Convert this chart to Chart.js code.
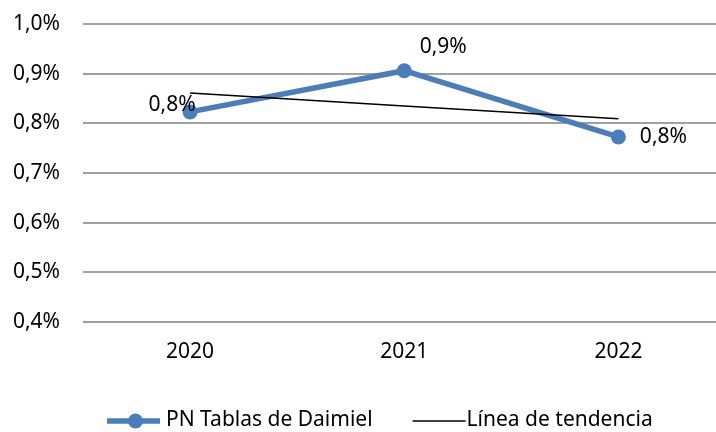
<!DOCTYPE html>
<html>
<head>
<meta charset="utf-8">
<script src="https://cdn.jsdelivr.net/npm/chart.js@4.4.1/dist/chart.umd.min.js"></script>
<style>
  html, body { margin: 0; padding: 0; background: #ffffff; overflow: hidden; }
  #wrap { width: 733px; height: 432px; }
  canvas { display: block; width: 733px; height: 432px; }
</style>
</head>
<body>
<div id="wrap"><canvas id="chart" width="733" height="432"></canvas></div>
<script>
const years = ['2020', '2021', '2022'];
const parkValues = [0.823, 0.906, 0.7725];
const trendValues = [0.861, 0.835, 0.809];
const seriesLabel = 'PN Tablas de Daimiel';
const trendLabel = 'Línea de tendencia';

const FONT = '"Noto Sans", "Open Sans", sans-serif';
const COLORS = {
  series: '#4a7ebb',
  trend: '#000000',
  grid: '#a0a0a0',
  text: '#000000'
};

function pct(value) {
  return value.toFixed(1).replace('.', ',') + '%';
}

// value labels next to each point of the main series
const valueLabels = {
  id: 'valueLabels',
  afterDatasetsDraw(chart, args, opts) {
    const meta = chart.getDatasetMeta(0);
    const ctx = chart.ctx;
    ctx.save();
    ctx.font = `21px ${FONT}`;
    ctx.fillStyle = COLORS.text;
    ctx.textAlign = 'center';
    ctx.textBaseline = 'middle';
    meta.data.forEach((pt, i) => {
      const [dx, dy] = opts.offsets[i];
      ctx.fillText(pct(chart.data.datasets[0].data[i]), pt.x + dx, pt.y + dy);
    });
    ctx.restore();
  }
};

// bottom legend drawn from the dataset styles
const bottomLegend = {
  id: 'bottomLegend',
  afterDraw(chart, args, opts) {
    const ctx = chart.ctx;
    const ds = chart.data.datasets;
    const y = opts.y;
    ctx.save();
    ctx.font = `21px ${FONT}`;
    ctx.fillStyle = COLORS.text;
    ctx.textBaseline = 'middle';
    ctx.textAlign = 'left';

    let x = opts.x;
    // series item: thick line with a marker
    ctx.strokeStyle = ds[0].borderColor;
    ctx.lineWidth = ds[0].borderWidth;
    ctx.beginPath();
    ctx.moveTo(x, y + 1);
    ctx.lineTo(x + 53, y + 1);
    ctx.stroke();
    ctx.fillStyle = ds[0].pointBackgroundColor;
    ctx.beginPath();
    ctx.arc(x + 28.5, y + 1, ds[0].pointRadius, 0, Math.PI * 2);
    ctx.fill();
    ctx.fillStyle = COLORS.text;
    ctx.fillText(ds[0].label, x + 59, y);
    x += 59 + ctx.measureText(ds[0].label).width + 40;

    // trend item: thin line
    ctx.strokeStyle = ds[1].borderColor;
    ctx.lineWidth = ds[1].borderWidth;
    ctx.beginPath();
    ctx.moveTo(x, y + 1);
    ctx.lineTo(x + 53, y + 1);
    ctx.stroke();
    ctx.fillText(ds[1].label, x + 54, y);
    ctx.restore();
  }
};

new Chart(document.getElementById('chart'), {
  type: 'line',
  data: {
    labels: years,
    datasets: [
      {
        label: seriesLabel,
        data: parkValues,
        borderColor: COLORS.series,
        backgroundColor: COLORS.series,
        pointBackgroundColor: COLORS.series,
        pointBorderWidth: 0,
        pointRadius: 7.5,
        borderWidth: 5.5,
        tension: 0,
        order: 1
      },
      {
        label: trendLabel,
        data: trendValues,
        borderColor: COLORS.trend,
        borderWidth: 1.5,
        pointRadius: 0,
        tension: 0,
        order: 0
      }
    ]
  },
  options: {
    responsive: false,
    animation: false,
    devicePixelRatio: 1,
    layout: { padding: { top: 24, right: 0, bottom: 60, left: 0 } },
    plugins: {
      legend: { display: false },
      tooltip: { enabled: false },
      valueLabels: { offsets: [[-18, -7], [39, -24], [45, 0]] },
      bottomLegend: { x: 107, y: 420 }
    },
    scales: {
      x: {
        offset: true,
        grid: { display: false, drawTicks: false },
        border: { display: false },
        ticks: {
          color: COLORS.text,
          padding: 17,
          font: { family: FONT, size: 21 }
        },
        afterFit(scale) { scale.height = 50; }
      },
      y: {
        min: 0.4,
        max: 1.0,
        grid: { color: COLORS.grid, lineWidth: 2, drawTicks: false },
        border: { display: false },
        ticks: {
          stepSize: 0.1,
          color: COLORS.text,
          padding: 23,
          font: { family: FONT, size: 21 },
          callback: (value) => pct(value)
        },
        afterFit(scale) {
          scale.width = 83;
          scale.paddingTop = 0;
          scale.paddingBottom = 0;
        }
      }
    }
  },
  plugins: [valueLabels, bottomLegend]
});
</script>
</body>
</html>
